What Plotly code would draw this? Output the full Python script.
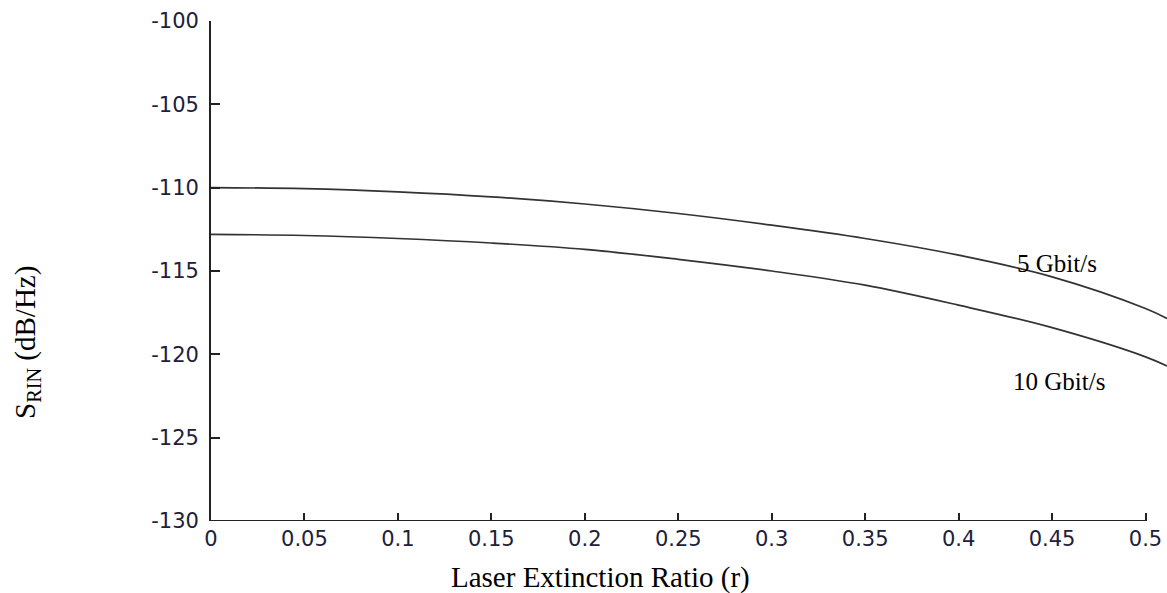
import plotly.graph_objects as go

r = [0.0, 0.05, 0.1, 0.15, 0.2, 0.25, 0.3, 0.35, 0.4, 0.45, 0.5, 0.5115]
s_5g = [-110.0, -110.06, -110.25, -110.55, -110.98, -111.55, -112.25, -113.05, -114.05, -115.35, -117.25, -117.85]
s_10g = [-112.8, -112.87, -113.05, -113.32, -113.7, -114.3, -115.0, -115.85, -117.05, -118.4, -120.15, -120.7]

x_ticks = [0, 0.05, 0.1, 0.15, 0.2, 0.25, 0.3, 0.35, 0.4, 0.45, 0.5]
x_tick_text = ["0", "0.05", "0.1", "0.15", "0.2", "0.25", "0.3", "0.35", "0.4", "0.45", "0.5"]
y_ticks = [-130, -125, -120, -115, -110, -105, -100]
y_tick_text = ["-130", "-125", "-120", "-115", "-110", "-105", "-100"]

labels = ["5 Gbit/s", "10 Gbit/s"]
label_pos = [(0.4529, -114.52), (0.4535, -121.6)]

W, H = 1167, 593
ML, MR, MT, MB = 211, 0, 21, 72


def px_to_paper(px, py):
    return (px - ML) / (W - ML - MR), (H - MB - py) / (H - MB - MT)


line_col = "#333333"
fig = go.Figure()
for ys, name in zip([s_5g, s_10g], labels):
    fig.add_trace(go.Scatter(x=r, y=ys, mode="lines", name=name,
                             line=dict(color=line_col, width=1.7, shape="spline"),
                             showlegend=False, hoverinfo="skip"))

for name, (lx, ly) in zip(labels, label_pos):
    fig.add_annotation(x=lx, y=ly, xref="x", yref="y", text=name, showarrow=False,
                       font=dict(family="Liberation Serif", size=25, color="black"))

# x-axis line only up to 0.5
fig.add_shape(type="line", xref="x", yref="y", x0=0, x1=0.5, y0=-130, y1=-130,
              line=dict(color="#222222", width=1.8), layer="above")

# y-axis title
yx, yy = px_to_paper(27, 343)
fig.add_annotation(x=yx, y=yy, xref="paper", yref="paper", xanchor="center", yanchor="middle",
                   text="S<sub>RIN</sub> (dB/Hz)", textangle=-90, showarrow=False,
                   font=dict(family="Liberation Serif", size=29, color="black"))

# x-axis title
tx, ty = px_to_paper(600, 577)
fig.add_annotation(x=tx, y=ty, xref="paper", yref="paper", xanchor="center", yanchor="middle",
                   text="Laser Extinction Ratio (r)", showarrow=False,
                   font=dict(family="Liberation Serif", size=29, color="black"))

fig.update_layout(
    width=W, height=H,
    margin=dict(l=ML, r=MR, t=MT, b=MB, autoexpand=False),
    plot_bgcolor="white", paper_bgcolor="white",
    xaxis=dict(range=[0, 0.5115], tickvals=x_ticks, ticktext=x_tick_text,
               ticks="inside", ticklen=8, tickwidth=1.5, tickcolor="#222222",
               showline=False, showgrid=False, zeroline=False, automargin=False,
               ticklabelstandoff=3,
               tickfont=dict(family="DejaVu Sans", size=21, color="#20203a")),
    yaxis=dict(range=[-130, -100], tickvals=y_ticks, ticktext=y_tick_text,
               ticks="inside", ticklen=9, tickwidth=1.5, tickcolor="#222222",
               showline=True, linecolor="#222222", linewidth=1.8,
               showgrid=False, zeroline=False, automargin=False,
               ticklabelstandoff=6,
               tickfont=dict(family="DejaVu Sans", size=21, color="#20203a")),
)

fig.write_html("out.html", config={"displayModeBar": False},
               post_script="document.body.style.margin='0';document.body.style.overflow='hidden';")
